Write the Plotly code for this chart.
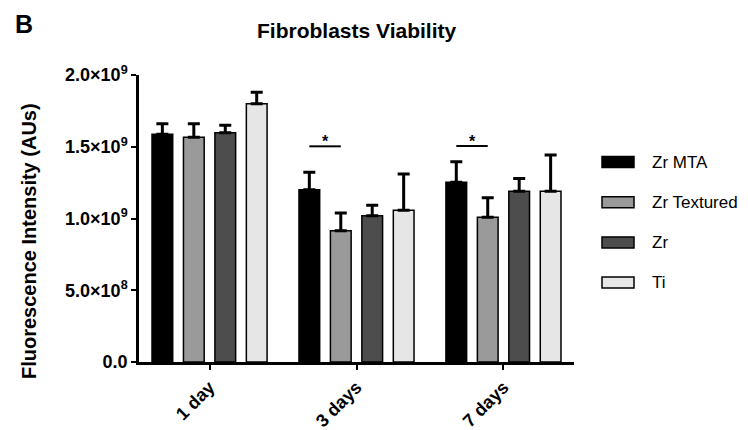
import plotly.graph_objects as go

groups = ["1 day", "3 days", "7 days"]
series = ["Zr MTA", "Zr Textured", "Zr", "Ti"]
means = {
    "Zr MTA":      [1.587e9, 1.201e9, 1.252e9],
    "Zr Textured": [1.566e9, 0.915e9, 1.008e9],
    "Zr":          [1.598e9, 1.020e9, 1.190e9],
    "Ti":          [1.800e9, 1.057e9, 1.190e9],
}
sds = {
    "Zr MTA":      [0.074e9, 0.121e9, 0.144e9],
    "Zr Textured": [0.095e9, 0.123e9, 0.137e9],
    "Zr":          [0.051e9, 0.072e9, 0.088e9],
    "Ti":          [0.079e9, 0.253e9, 0.253e9],
}
colors = {"Zr MTA": "#000000", "Zr Textured": "#9a9a9a", "Zr": "#4d4d4d", "Ti": "#e6e6e6"}
ytick_vals = [0, 5e8, 1e9, 1.5e9, 2e9]
ytick_text = ["0.0", "5.0×10<sup>8</sup>", "1.0×10<sup>9</sup>", "1.5×10<sup>9</sup>", "2.0×10<sup>9</sup>"]
sig_groups = [1, 2]
sig_y = [1.503e9, 1.505e9]

FONT = "Liberation Sans, Arial, sans-serif"
xpos = list(range(len(groups)))
slot = 0.214
barw = 0.141

# plot area (absolute px in the window): x 139..574, y 75..362 ; page body has 8px margin
PL, PR, PT, PB = 139, 574, 75, 362
def px(X):
    return (X - PL) / (PR - PL)
def py(Y):
    return (PB - Y) / (PB - PT)

fig = go.Figure()
for i, s in enumerate(series):
    off = (i - 1.5) * slot
    fig.add_trace(go.Bar(
        x=xpos, y=means[s], name=s, width=barw, offset=off - barw / 2,
        marker=dict(color=colors[s], line=dict(color="#000000", width=1.5)),
        error_y=dict(type="data", array=sds[s], arrayminus=[0] * 3, symmetric=False,
                     color="#000000", thickness=3, width=6),
        showlegend=False,
    ))

# significance bars between Zr MTA and Zr Textured
for g, yv in zip(sig_groups, sig_y):
    x0 = g + (0 - 1.5) * slot
    x1 = g + (1 - 1.5) * slot
    fig.add_shape(type="line", x0=x0, x1=x1, y0=yv, y1=yv, xref="x", yref="y",
                  line=dict(color="#000000", width=2))
    fig.add_annotation(x=(x0 + x1) / 2, y=yv, text="<b>*</b>", showarrow=False,
                       xref="x", yref="y", yanchor="bottom", yshift=-6,
                       font=dict(family=FONT, size=16, color="#000"))

# custom legend
leg_y0 = 162
for i, s in enumerate(series):
    yc = leg_y0 + i * 40.2
    fig.add_shape(type="rect", xref="paper", yref="paper",
                  x0=px(602), x1=px(634), y0=py(yc + 5.5), y1=py(yc - 5.5),
                  fillcolor=colors[s], line=dict(color="#000000", width=1.5))
    fig.add_annotation(xref="paper", yref="paper", x=px(650), y=py(yc),
                       text=s, showarrow=False, xanchor="left", yanchor="middle",
                       font=dict(family=FONT, size=17, color="#000"))

fig.add_annotation(xref="paper", yref="paper", x=0.5, y=py(31), text="<b>Fibroblasts Viability</b>",
                   showarrow=False, xanchor="center", yanchor="middle",
                   font=dict(family=FONT, size=21, color="#000"))
fig.add_annotation(xref="paper", yref="paper", x=px(13), y=py(24), text="<b>B</b>",
                   showarrow=False, xanchor="left", yanchor="middle",
                   font=dict(family=FONT, size=25, color="#000"))
fig.add_annotation(xref="paper", yref="paper", x=px(29), y=py(241),
                   text="<b>Fluorescence Intensity (AUs)</b>", textangle=-90,
                   showarrow=False, xanchor="center", yanchor="middle",
                   font=dict(family=FONT, size=20, color="#000"))

fig.update_layout(
    width=740, height=422,
    margin=dict(l=PL - 8, r=748 - PR, t=PT - 8, b=430 - PB),
    plot_bgcolor="white", paper_bgcolor="white",
    font=dict(family=FONT, color="#000"),
    xaxis=dict(range=[-0.48, 2.48], tickvals=xpos, ticktext=[f"<b>{g}</b>" for g in groups],
               tickangle=-45, showline=True, linecolor="#000", linewidth=2.5,
               ticks="outside", ticklen=5, tickwidth=2, tickcolor="#000", automargin=False,
               showgrid=False, zeroline=False, tickfont=dict(family=FONT, size=18)),
    yaxis=dict(range=[0, 2e9], tickvals=ytick_vals, ticktext=[f"<b>{t}</b>" for t in ytick_text],
               showline=True, linecolor="#000", linewidth=2.5, automargin=False,
               ticks="outside", ticklen=5, tickwidth=2, tickcolor="#000",
               showgrid=False, zeroline=False, tickfont=dict(family=FONT, size=18)),
)

fig.write_html("out.html")
